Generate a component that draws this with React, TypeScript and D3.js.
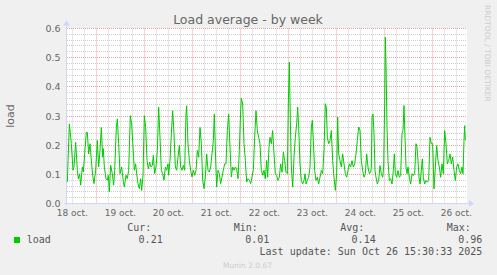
import React from 'react';
import * as d3 from 'd3';

// hours since 18 Oct 2025 00:00
const hours = [
  9.52, 10.52, 11.52, 12.35, 12.85, 13.68, 14.52, 15.02, 15.68, 16.18, 17.02, 17.52, 18.18, 19.02, 19.52, 20.18,
  20.85, 21.52, 22.18, 22.85, 23.68, 24.52, 25.18, 25.85, 26.52, 27.18, 27.52, 28.02, 28.85, 29.52, 30.02, 30.52,
  31.18, 32.02, 32.68, 33.18, 34.02, 34.52, 35.18, 35.85, 36.68, 37.52, 38.02, 38.85, 39.52, 40.18, 41.02, 41.68,
  42.35, 43.02, 43.68, 44.18, 44.85, 45.52, 46.18, 46.68, 47.35, 48.02, 48.68, 49.35, 50.02, 50.68, 51.35, 52.02,
  52.52, 53.18, 53.85, 54.52, 55.18, 55.85, 56.52, 57.18, 57.85, 58.52, 59.18, 59.85,
  60.18, 60.85, 61.52, 62.18, 62.85, 63.52, 64.18, 64.85, 65.52, 66.18, 66.85, 67.52, 68.18, 68.85, 69.18, 69.85,
  70.52, 71.18, 71.85, 72.52, 73.18, 73.85, 74.52, 75.18, 75.85, 76.52, 77.18, 77.85, 78.52, 79.18, 79.85, 80.52,
  81.18, 81.85, 82.52, 83.02, 83.68, 84.18, 84.85, 85.52, 86.18, 86.85, 87.52, 88.18, 88.85, 89.52, 90.18, 90.85,
  91.52, 92.18, 92.85, 93.52, 94.18, 94.85, 95.52, 96.18, 96.52, 97.18, 97.85, 98.52, 99.18, 99.85, 100.52, 101.18,
  101.85, 102.52, 103.18, 103.85, 104.52, 105.18, 105.85, 106.52, 107.18, 107.85, 108.52, 109.18,
  109.68, 110.35, 110.85, 111.52, 112.18, 112.85, 113.52, 114.18, 114.85, 115.52, 116.18, 116.85, 117.52, 118.18,
  118.85, 119.52, 120.02, 120.52, 121.02, 121.52, 122.18, 122.85, 123.52, 124.18, 124.68, 125.18, 125.85, 126.52,
  127.18, 127.85, 128.35, 128.85, 129.52, 130.18, 130.85, 131.52, 132.02, 132.52, 133.18, 133.85, 134.52, 135.18,
  135.85, 136.52, 137.18, 137.85, 138.52, 139.02, 139.52, 140.18, 140.85, 141.52, 142.18, 142.85, 143.52, 144.18,
  144.68, 145.18, 145.85, 146.52, 147.18, 147.85, 148.52, 149.18, 149.85, 150.52, 151.18, 151.85, 152.52, 153.18,
  153.85, 154.52, 155.18, 155.85, 156.52, 157.18, 157.85, 158.52, 159.18,
  159.85, 160.52, 161.18, 161.52, 161.85, 162.35, 162.85, 163.35, 163.85, 164.52, 165.18, 165.85, 166.52, 167.18,
  167.68, 168.18, 168.52, 168.85, 169.35, 169.85, 170.52, 171.18, 171.85, 172.52, 173.02, 173.52, 174.18, 174.85,
  175.52, 176.18, 176.85, 177.35, 177.85, 178.35, 178.85, 179.35, 179.85, 180.52, 181.18, 181.85, 182.52, 183.18,
  183.85, 184.35, 184.85, 185.35, 185.85, 186.52, 187.02, 187.52, 188.18, 188.85, 189.52, 190.18, 190.85, 191.52,
  192.18, 192.85, 193.52, 194.18, 194.85, 195.52, 196.18, 196.85, 197.52, 198.18, 198.85, 199.52, 200.18, 200.85,
  201.52, 202.18, 202.85, 203.52, 204.18, 204.85, 205.52, 206.18, 206.85, 207.35, 207.85, 208.18, 208.52,
];

const load = [
  0.074, 0.273, 0.205, 0.114, 0.125, 0.21, 0.114, 0.085, 0.102, 0.063, 0.125, 0.108, 0.17, 0.244, 0.244, 0.17,
  0.205, 0.148, 0.097, 0.068, 0.114, 0.216, 0.125, 0.182, 0.261, 0.159, 0.188, 0.125, 0.085, 0.08, 0.097, 0.04,
  0.131, 0.102, 0.063, 0.114, 0.261, 0.29, 0.205, 0.102, 0.125, 0.074, 0.057, 0.097, 0.085, 0.114, 0.301, 0.273,
  0.193, 0.114, 0.136, 0.102, 0.068, 0.051, 0.085, 0.045, 0.097, 0.301, 0.261, 0.148, 0.119, 0.142, 0.125, 0.131,
  0.165, 0.102, 0.125, 0.182, 0.33, 0.227, 0.114, 0.102, 0.08, 0.125, 0.114, 0.136,
  0.097, 0.148, 0.239, 0.318, 0.239, 0.125, 0.114, 0.159, 0.199, 0.125, 0.114, 0.131, 0.114, 0.307, 0.335, 0.205,
  0.148, 0.114, 0.091, 0.114, 0.097, 0.114, 0.182, 0.159, 0.261, 0.205, 0.08, 0.051, 0.091, 0.17, 0.114, 0.108,
  0.125, 0.17, 0.216, 0.307, 0.148, 0.057, 0.114, 0.102, 0.068, 0.091, 0.114, 0.136, 0.136, 0.25, 0.307, 0.193,
  0.091, 0.125, 0.114, 0.125, 0.119, 0.085, 0.182, 0.318, 0.361, 0.341, 0.205, 0.148, 0.074, 0.085, 0.08, 0.068,
  0.091, 0.114, 0.227, 0.318, 0.25, 0.227, 0.205, 0.114, 0.097, 0.114, 0.085, 0.148,
  0.09, 0.193, 0.227, 0.205, 0.25, 0.17, 0.102, 0.096, 0.079, 0.09, 0.136, 0.107, 0.176, 0.147,
  0.107, 0.102, 0.342, 0.485, 0.285, 0.125, 0.056, 0.159, 0.227, 0.273, 0.33, 0.262, 0.136, 0.079,
  0.067, 0.079, 0.102, 0.067, 0.079, 0.09, 0.125, 0.262, 0.285, 0.216, 0.113, 0.079, 0.09, 0.067,
  0.09, 0.113, 0.102, 0.182, 0.342, 0.33, 0.227, 0.205, 0.216, 0.25, 0.147, 0.09, 0.045, 0.102,
  0.296, 0.17, 0.147, 0.125, 0.17, 0.136, 0.102, 0.09, 0.113, 0.136, 0.125, 0.147, 0.125, 0.136,
  0.17, 0.216, 0.262, 0.25, 0.147, 0.113, 0.09, 0.102, 0.17,
  0.125, 0.102, 0.107, 0.125, 0.296, 0.307, 0.239, 0.113, 0.09, 0.067, 0.079, 0.13, 0.102, 0.09,
  0.125, 0.342, 0.57, 0.479, 0.262, 0.147, 0.079, 0.085, 0.067, 0.113, 0.17, 0.102, 0.09, 0.113,
  0.09, 0.096, 0.239, 0.25, 0.336, 0.227, 0.125, 0.102, 0.125, 0.09, 0.067, 0.102, 0.096, 0.102,
  0.205, 0.193, 0.147, 0.09, 0.067, 0.113, 0.153, 0.09, 0.067, 0.079, 0.073, 0.079, 0.227, 0.205,
  0.205, 0.05, 0.125, 0.199, 0.147, 0.125, 0.09, 0.136, 0.102, 0.25, 0.205, 0.136, 0.147, 0.17,
  0.136, 0.159, 0.113, 0.079, 0.125, 0.136, 0.113, 0.102, 0.125, 0.102, 0.216, 0.267, 0.216,
];

const dayLabels = ['18 oct.', '19 oct.', '20 oct.', '21 oct.', '22 oct.', '23 oct.', '24 oct.', '25 oct.', '26 oct.'];
const yTicks = [0, 0.1, 0.2, 0.3, 0.4, 0.5, 0.6];
const statLabels = ['Cur:', 'Min:', 'Avg:', 'Max:'];
const statValues = ['0.21', '0.01', '0.14', '0.96'];

const FONT = 'DejaVu Sans, sans-serif';
const MONO = 'DejaVu Sans Mono, monospace';

export default function App() {
  const W = 497;
  const H = 275;
  const x = d3.scaleLinear().domain([9.35, 209.35]).range([67, 467]);
  const y = d3.scaleLinear().domain([0, 0.6]).range([203.5, 28.5]);
  const px = (v: number) => Math.floor(v) + 0.5;

  const minorH: number[] = d3.range(1, 30).filter((k) => k % 5 !== 0).map((k) => k * 0.02);
  const majorH = yTicks.slice(1);
  const minorV: number[] = d3.range(12, 210, 6).filter((h) => h % 24 !== 0);
  const majorV: number[] = d3.range(24, 210, 24);

  const line = d3
    .line<number>()
    .x((_, i) => x(hours[i]))
    .y((d) => y(d));

  const x0 = x.range()[0];
  const x1 = x.range()[1];
  const yTop = y.range()[1];
  const yBot = y.range()[0];
  const statX = [162.7, 269.3, 375.7, 482.3];

  return (
    <svg
      width={W}
      height={H}
      style={{ position: 'absolute', left: 0, top: 0, display: 'block', background: '#f0f0f0' }}
    >
      <rect x={0} y={0} width={W} height={H} fill="#f0f0f0" />
      <rect x={x0} y={yTop} width={x1 - x0} height={yBot - yTop} fill="#ffffff" />

      {/* minor grid */}
      {minorH.map((v) => (
        <line key={'mh' + v} x1={x0} x2={x1} y1={px(y(v))} y2={px(y(v))} stroke="#cfcfcf" strokeDasharray="1,1" />
      ))}
      {minorV.map((h) => (
        <line key={'mv' + h} x1={px(x(h))} x2={px(x(h))} y1={yTop} y2={yBot} stroke="#cfcfcf" strokeDasharray="1,1" />
      ))}
      {/* major grid */}
      {majorH.map((v) => (
        <line key={'Mh' + v} x1={x0} x2={x1} y1={px(y(v))} y2={px(y(v))} stroke="#eca2a2" strokeDasharray="1,1" />
      ))}
      {majorV.map((h) => (
        <line key={'Mv' + h} x1={px(x(h))} x2={px(x(h))} y1={yTop} y2={yBot} stroke="#eca2a2" strokeDasharray="1,1" />
      ))}

      {/* axes */}
      <line x1={x0 - 0.5} x2={x0 - 0.5} y1={yBot + 2} y2={yTop - 4} stroke="#cfd6f8" strokeWidth={1} />
      <path d={`M${x0 - 4},${yTop - 3} L${x0 + 3},${yTop - 3} L${x0 - 0.5},${yTop - 8} Z`} fill="#cfd6f8" />
      <line x1={x0 - 3} x2={x1 + 3} y1={yBot} y2={yBot} stroke="#cfd6f8" strokeWidth={1} />
      <path d={`M${x1 + 2},${yBot - 3.5} L${x1 + 2},${yBot + 3.5} L${x1 + 7},${yBot} Z`} fill="#cfd6f8" />

      {/* data */}
      <path d={line(load) || ''} fill="none" stroke="#00cc00" strokeWidth={1} />

      {/* y tick labels */}
      {yTicks.map((v) => (
        <text key={'yt' + v} x={60.5} y={y(v) + 3.5} textAnchor="end" fontFamily={FONT} fontSize={9.5} fill="#666">
          {v.toFixed(1)}
        </text>
      ))}
      {/* x tick labels */}
      {dayLabels.map((d, i) => (
        <text key={d} x={x(12 + 24 * i)} y={216} textAnchor="middle" fontFamily={FONT} fontSize={9} fill="#666">
          {d}
        </text>
      ))}

      {/* title */}
      <text x={248} y={24} textAnchor="middle" fontFamily={FONT} fontSize={12.5} fill="#666">
        Load average - by week
      </text>
      {/* y label */}
      <text transform="translate(14,116) rotate(-90)" textAnchor="middle" fontFamily={FONT} fontSize={11} fill="#666">
        load
      </text>
      {/* watermark */}
      <text transform="translate(485,5) rotate(90)" fontFamily={FONT} fontSize={7.5} fill="#cccccc">
        RRDTOOL / TOBI OETIKER
      </text>

      {/* legend */}
      <rect x={14} y={237} width={6} height={6} fill="#00cc00" />
      <text x={26.7} y={242.5} fontFamily={MONO} fontSize={10} fill="#555">
        load
      </text>
      {statLabels.map((s, i) => (
        <text key={s} x={statX[i] - 35.5} y={230.5} fontFamily={MONO} fontSize={10} fill="#555">
          {s}
        </text>
      ))}
      {statValues.map((s, i) => (
        <text key={'v' + i} x={statX[i]} y={242.5} textAnchor="end" fontFamily={MONO} fontSize={10} fill="#555">
          {s}
        </text>
      ))}
      <text x={482.3} y={255} textAnchor="end" fontFamily={MONO} fontSize={10} fill="#555">
        Last update: Sun Oct 26 15:30:33 2025
      </text>
      <text x={247.5} y={267.5} textAnchor="middle" fontFamily={FONT} fontSize={7.5} fill="#cccccc">
        Munin 2.0.67
      </text>
    </svg>
  );
}
